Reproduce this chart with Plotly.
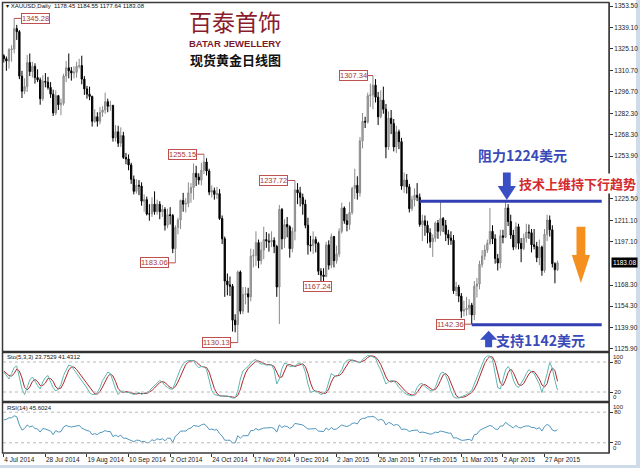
import plotly.graph_objects as go

# ---------------- data ----------------
tick_bars = [0, 16, 32, 48, 64, 80, 96, 112, 128, 144, 160, 176, 192, 208]
tick_labels = ["4 Jul 2014", "28 Jul 2014", "19 Aug 2014", "10 Sep 2014", "2 Oct 2014",
               "24 Oct 2014", "17 Nov 2014", "9 Dec 2014", "2 Jan 2015", "26 Jan 2015",
               "17 Feb 2015", "11 Mar 2015", "2 Apr 2015", "27 Apr 2015"]

price_ticks = [1353.50, 1339.10, 1325.10, 1310.70, 1296.70, 1282.30, 1268.30, 1253.90,
               1225.50, 1211.10, 1197.10, 1168.30, 1154.30, 1139.90, 1125.90]

opens = [1320.5, 1318.5, 1317.0, 1324.5, 1325.0, 1338.5, 1336.5, 1307.0, 1297.0, 1300.0,
         1316.0, 1310.0, 1313.5, 1306.0, 1304.5, 1292.0, 1303.5, 1303.0, 1299.5, 1295.0,
         1282.5, 1294.0, 1288.0, 1289.0, 1307.0, 1312.5, 1310.5, 1309.0, 1309.5, 1313.5,
         1314.0, 1305.0, 1298.5, 1295.0, 1293.5, 1277.0, 1280.0, 1277.0, 1283.0, 1284.5,
         1290.0, 1287.0, 1287.5, 1266.0, 1270.0, 1262.5, 1267.5, 1253.0, 1252.0, 1248.0,
         1238.5, 1230.5, 1234.5, 1234.0, 1224.0, 1225.0, 1215.5, 1215.5, 1222.0, 1217.0,
         1222.0, 1217.0, 1218.5, 1208.0, 1215.0, 1214.5, 1192.5, 1206.5, 1211.5, 1224.5,
         1222.0, 1222.5, 1229.5, 1233.0, 1242.5, 1240.0, 1238.0, 1244.5, 1250.0, 1244.0,
         1230.0, 1231.0, 1228.5, 1229.0, 1212.5, 1199.0, 1171.0, 1168.5, 1167.5, 1145.0,
         1142.0, 1177.0, 1151.0, 1162.0, 1162.5, 1160.5, 1187.5, 1188.0, 1196.5, 1184.5,
         1191.5, 1198.5, 1197.5, 1197.0, 1198.0, 1194.0, 1167.0, 1218.5, 1199.0, 1208.5,
         1207.0, 1192.5, 1204.0, 1231.5, 1229.5, 1226.5, 1222.0, 1208.0, 1195.0, 1194.5,
         1198.5, 1196.0, 1177.5, 1175.0, 1174.0, 1195.0, 1181.5, 1200.5, 1184.5, 1189.0,
         1204.0, 1219.5, 1211.0, 1208.5, 1216.5, 1232.5, 1234.5, 1229.5, 1264.0, 1277.0,
         1276.5, 1294.0, 1294.5, 1301.0, 1293.0, 1280.0, 1291.0, 1285.0, 1260.0, 1279.0,
         1275.5, 1260.0, 1270.0, 1263.5, 1234.0, 1238.0, 1233.5, 1219.0, 1225.0, 1228.0,
         1226.5, 1208.5, 1211.0, 1208.0, 1203.0, 1197.0, 1199.5, 1209.5, 1204.0, 1212.5,
         1208.0, 1202.0, 1199.5, 1198.0, 1164.5, 1167.0, 1161.0, 1151.0, 1152.0, 1153.0,
         1155.0, 1148.5, 1167.5, 1169.0, 1182.0, 1187.5, 1191.5, 1196.0, 1204.0, 1199.0,
         1186.0, 1183.0, 1201.0, 1200.0, 1219.5, 1210.5, 1201.5, 1193.5, 1207.0, 1196.0,
         1192.5, 1199.5, 1203.5, 1203.0, 1195.0, 1194.0, 1186.5, 1193.5, 1178.0, 1202.0,
         1211.5, 1205.0, 1182.5, 1178.45]

highs = [1321.5, 1320.0, 1325.5, 1327.5, 1345.28, 1341.0, 1337.5, 1310.5, 1305.5, 1321.0,
         1322.0, 1316.5, 1315.5, 1311.5, 1306.0, 1307.5, 1309.0, 1306.5, 1303.0, 1298.0,
         1297.5, 1294.5, 1292.0, 1308.5, 1317.0, 1322.0, 1313.0, 1313.5, 1316.5, 1318.5,
         1320.5, 1307.0, 1300.5, 1300.0, 1294.0, 1285.0, 1283.0, 1286.5, 1287.0, 1296.0,
         1292.0, 1290.5, 1288.0, 1274.5, 1274.0, 1273.0, 1270.0, 1256.0, 1255.0, 1249.5,
         1241.0, 1238.5, 1238.0, 1236.5, 1228.5, 1227.0, 1222.0, 1226.5, 1230.5, 1225.0,
         1224.0, 1221.5, 1220.0, 1219.0, 1220.0, 1215.5, 1208.0, 1213.0, 1225.0, 1229.5,
         1226.0, 1236.5, 1236.0, 1249.0, 1247.5, 1242.5, 1249.5, 1255.15, 1252.5, 1245.5,
         1234.5, 1233.0, 1233.5, 1232.0, 1214.5, 1200.5, 1176.0, 1174.0, 1169.0, 1149.0,
         1178.0, 1178.0, 1167.0, 1167.0, 1166.5, 1192.5, 1192.0, 1204.0, 1198.5, 1197.0,
         1207.0, 1203.5, 1202.5, 1204.0, 1200.0, 1195.0, 1221.5, 1219.5, 1212.0, 1213.5,
         1208.0, 1206.5, 1237.72, 1236.0, 1233.5, 1229.0, 1225.0, 1213.0, 1201.0, 1204.0,
         1200.5, 1197.0, 1179.5, 1179.5, 1197.0, 1198.0, 1202.5, 1201.0, 1194.5, 1206.0,
         1223.0, 1220.5, 1215.5, 1223.5, 1233.5, 1245.5, 1240.5, 1266.5, 1282.5, 1280.0,
         1296.0, 1302.0, 1307.34, 1305.0, 1296.5, 1297.5, 1300.0, 1288.5, 1283.5, 1284.5,
         1278.5, 1274.0, 1271.5, 1266.0, 1243.0, 1242.0, 1235.5, 1227.5, 1232.5, 1236.0,
         1229.0, 1215.0, 1214.5, 1211.0, 1206.0, 1202.0, 1210.5, 1211.5, 1224.0, 1213.5,
         1211.5, 1205.0, 1204.0, 1201.5, 1170.5, 1168.5, 1163.0, 1158.0, 1160.5, 1159.0,
         1156.5, 1171.0, 1173.0, 1184.5, 1191.5, 1195.0, 1198.5, 1219.5, 1208.0, 1202.0,
         1189.0, 1205.0, 1205.0, 1224.0, 1222.0, 1215.0, 1205.0, 1210.0, 1209.0, 1199.5,
         1202.5, 1209.0, 1208.5, 1205.5, 1205.5, 1197.0, 1198.5, 1194.5, 1205.5, 1215.0,
         1214.5, 1208.0, 1183.5, 1184.55]

lows = [1316.0, 1310.5, 1312.0, 1316.5, 1322.0, 1331.0, 1305.0, 1292.5, 1295.0, 1296.5,
        1307.0, 1306.0, 1302.0, 1303.0, 1288.0, 1290.5, 1299.5, 1298.0, 1292.5, 1280.5,
        1281.0, 1284.5, 1281.0, 1287.5, 1303.0, 1305.5, 1304.0, 1305.5, 1306.0, 1312.0,
        1301.5, 1294.5, 1292.0, 1291.0, 1273.5, 1276.0, 1273.5, 1275.0, 1280.0, 1282.0,
        1283.0, 1284.0, 1263.5, 1263.5, 1260.0, 1260.0, 1252.0, 1248.5, 1244.5, 1235.5,
        1228.5, 1229.0, 1228.0, 1221.0, 1217.0, 1214.5, 1211.0, 1213.5, 1215.0, 1215.0,
        1212.0, 1213.5, 1204.5, 1206.0, 1208.5, 1189.5, 1183.06, 1202.0, 1205.5, 1217.0,
        1216.5, 1220.0, 1223.0, 1225.0, 1234.0, 1235.0, 1234.5, 1242.0, 1241.0, 1228.0,
        1226.5, 1225.0, 1225.5, 1211.5, 1195.5, 1160.5, 1161.5, 1161.0, 1137.5, 1137.0,
        1130.13, 1149.0, 1149.0, 1155.5, 1150.0, 1157.5, 1180.0, 1181.0, 1179.5, 1182.0,
        1185.5, 1193.0, 1190.5, 1193.5, 1189.5, 1160.5, 1142.5, 1192.0, 1193.0, 1200.0,
        1186.5, 1190.0, 1198.0, 1222.0, 1220.5, 1215.0, 1206.0, 1188.5, 1190.5, 1189.0,
        1190.0, 1175.0, 1167.24, 1171.0, 1173.5, 1178.5, 1179.5, 1180.0, 1182.5, 1187.0,
        1202.5, 1209.0, 1204.0, 1205.0, 1215.0, 1225.5, 1225.0, 1227.0, 1259.0, 1272.5,
        1275.5, 1286.5, 1285.0, 1289.5, 1274.5, 1279.0, 1282.0, 1252.5, 1258.0, 1268.5,
        1257.0, 1256.0, 1258.5, 1231.5, 1229.5, 1229.0, 1216.5, 1217.5, 1220.5, 1224.0,
        1207.0, 1197.5, 1201.0, 1196.0, 1193.0, 1187.0, 1197.0, 1199.0, 1201.0, 1203.5,
        1197.5, 1195.0, 1195.0, 1162.5, 1161.0, 1157.0, 1146.5, 1147.5, 1148.0, 1148.5,
        1142.36, 1145.0, 1160.0, 1165.5, 1180.0, 1185.0, 1189.5, 1195.0, 1195.5, 1182.5,
        1178.0, 1179.5, 1196.0, 1199.5, 1207.5, 1199.0, 1191.5, 1192.0, 1192.0, 1183.5,
        1191.5, 1196.5, 1199.0, 1190.0, 1192.0, 1183.5, 1181.5, 1174.5, 1176.5, 1197.5,
        1200.5, 1180.0, 1169.5, 1177.64]

closes = [1318.5, 1317.0, 1324.5, 1325.0, 1338.5, 1336.5, 1307.0, 1297.0, 1300.0, 1316.0,
          1310.0, 1313.5, 1306.0, 1304.5, 1292.0, 1303.5, 1303.0, 1299.5, 1295.0, 1282.5,
          1294.0, 1288.0, 1289.0, 1307.0, 1312.5, 1310.5, 1309.0, 1309.5, 1313.5, 1314.0,
          1305.0, 1298.5, 1295.0, 1293.5, 1277.0, 1280.0, 1277.0, 1283.0, 1284.5, 1290.0,
          1287.0, 1287.5, 1266.0, 1270.0, 1262.5, 1267.5, 1253.0, 1252.0, 1248.0, 1238.5,
          1230.5, 1234.5, 1234.0, 1224.0, 1225.0, 1215.5, 1215.5, 1222.0, 1217.0, 1222.0,
          1217.0, 1218.5, 1208.0, 1215.0, 1214.5, 1192.5, 1206.5, 1211.5, 1224.5, 1222.0,
          1222.5, 1229.5, 1233.0, 1242.5, 1240.0, 1238.0, 1244.5, 1250.0, 1244.0, 1230.0,
          1231.0, 1228.5, 1229.0, 1212.5, 1199.0, 1171.0, 1168.5, 1167.5, 1145.0, 1142.0,
          1177.0, 1151.0, 1162.0, 1162.5, 1160.5, 1187.5, 1188.0, 1196.5, 1184.5, 1191.5,
          1198.5, 1197.5, 1197.0, 1198.0, 1194.0, 1167.0, 1218.5, 1199.0, 1208.5, 1207.0,
          1192.5, 1204.0, 1231.5, 1229.5, 1226.5, 1222.0, 1208.0, 1195.0, 1194.5, 1198.5,
          1196.0, 1177.5, 1175.0, 1174.0, 1195.0, 1181.5, 1200.5, 1184.5, 1189.0, 1204.0,
          1219.5, 1211.0, 1208.5, 1216.5, 1232.5, 1234.5, 1229.5, 1264.0, 1277.0, 1276.5,
          1294.0, 1294.5, 1301.0, 1293.0, 1280.0, 1291.0, 1285.0, 1260.0, 1279.0, 1275.5,
          1260.0, 1270.0, 1263.5, 1234.0, 1238.0, 1233.5, 1219.0, 1225.0, 1228.0, 1226.5,
          1208.5, 1211.0, 1208.0, 1203.0, 1197.0, 1199.5, 1209.5, 1204.0, 1212.5, 1208.0,
          1202.0, 1199.5, 1198.0, 1164.5, 1167.0, 1161.0, 1151.0, 1152.0, 1153.0, 1155.0,
          1148.5, 1167.5, 1169.0, 1182.0, 1187.5, 1191.5, 1196.0, 1204.0, 1199.0, 1186.0,
          1183.0, 1201.0, 1200.0, 1219.5, 1210.5, 1201.5, 1193.5, 1207.0, 1196.0, 1192.5,
          1199.5, 1203.5, 1203.0, 1195.0, 1194.0, 1186.5, 1193.5, 1178.0, 1202.0, 1211.5,
          1205.0, 1182.5, 1178.5, 1183.08]

sto_main = [60, 53, 46, 57, 69, 72, 46, 26, 15, 30, 44, 50, 40, 33, 26, 40, 49, 53, 40, 29,
            22, 26, 35, 53, 64, 74, 72, 65, 58, 51, 44, 37, 28, 19, 15, 15, 19, 29, 43, 51,
            60, 57, 40, 26, 15, 21, 22, 19, 19, 17, 15, 17, 19, 15, 18, 19, 22, 28, 33, 40,
            43, 40, 33, 29, 26, 26, 40, 53, 67, 76, 81, 83, 83, 83, 74, 69, 71, 71, 65, 43,
            23, 15, 13, 12, 12, 12, 12, 10, 8, 8, 22, 46, 62, 67, 71, 78, 83, 85, 79, 76,
            76, 74, 74, 74, 64, 36, 46, 67, 78, 76, 71, 71, 72, 76, 78, 74, 60, 36, 19, 21,
            23, 19, 15, 17, 22, 40, 57, 53, 50, 57, 64, 78, 83, 85, 83, 81, 79, 78, 85, 90,
            93, 92, 90, 88, 74, 64, 50, 36, 40, 43, 42, 37, 29, 23, 19, 15, 14, 12, 17, 29,
            36, 37, 31, 26, 23, 22, 29, 44, 57, 60, 53, 40, 22, 10, 8, 8, 10, 12, 15, 19,
            23, 36, 49, 64, 79, 88, 92, 92, 85, 60, 29, 26, 43, 64, 71, 63, 44, 33, 29, 37,
            46, 57, 65, 60, 57, 46, 36, 19, 36, 57, 79, 67, 43, 23.7529]

sto_signal = [62, 57, 53, 52, 57, 66, 62, 48, 29, 24, 30, 41, 45, 41, 33, 33, 38, 47, 47, 41,
              30, 26, 28, 38, 51, 64, 70, 70, 65, 58, 51, 44, 36, 28, 21, 16, 16, 21, 30, 41,
              51, 56, 52, 41, 27, 21, 19, 21, 20, 18, 17, 16, 17, 17, 17, 17, 20, 23, 28, 34,
              39, 41, 39, 34, 29, 27, 31, 40, 53, 65, 75, 80, 82, 83, 80, 75, 71, 70, 69, 60,
              44, 27, 17, 13, 12, 12, 12, 11, 10, 9, 13, 25, 43, 58, 67, 72, 77, 82, 82, 80,
              77, 75, 75, 74, 71, 58, 49, 50, 64, 74, 75, 73, 71, 73, 75, 76, 71, 57, 38, 25,
              21, 21, 19, 17, 18, 26, 40, 50, 53, 53, 57, 66, 75, 82, 84, 83, 81, 79, 81, 84,
              89, 92, 92, 90, 84, 75, 63, 50, 42, 40, 42, 41, 36, 30, 24, 19, 16, 14, 14, 19,
              27, 34, 35, 31, 27, 24, 25, 32, 43, 54, 57, 51, 38, 24, 13, 9, 9, 10, 12, 15,
              19, 26, 36, 50, 64, 77, 86, 91, 90, 79, 58, 38, 33, 44, 59, 66, 59, 47, 35, 33,
              37, 47, 56, 61, 61, 54, 46, 34, 30, 37, 57, 68, 63, 41.4312]

rsi_vals = [65, 66, 69, 69, 73, 71, 55, 45, 48, 55, 51, 53, 48, 47, 41, 48, 47, 45, 43, 36,
            44, 41, 42, 51, 54, 52, 51, 52, 53, 54, 49, 46, 44, 43, 36, 38, 36, 40, 41, 44,
            42, 42, 32, 35, 32, 35, 29, 29, 27, 24, 22, 25, 25, 22, 23, 20, 21, 26, 24, 28,
            26, 28, 24, 29, 29, 21, 33, 37, 43, 43, 43, 47, 49, 54, 53, 52, 55, 57, 53, 46,
            47, 45, 46, 38, 33, 25, 25, 25, 20, 20, 34, 29, 34, 34, 34, 44, 44, 48, 45, 47,
            49, 49, 49, 50, 48, 41, 55, 50, 53, 52, 48, 51, 58, 57, 56, 55, 51, 47, 47, 48,
            48, 43, 43, 42, 49, 45, 50, 46, 47, 51, 55, 53, 52, 54, 58, 59, 57, 65, 68, 68,
            71, 71, 72, 69, 64, 66, 64, 55, 60, 58, 54, 56, 54, 46, 47, 46, 42, 44, 45, 45,
            40, 41, 40, 39, 37, 38, 41, 40, 43, 42, 40, 39, 39, 29, 30, 28, 25, 25, 26, 27,
            24, 36, 37, 44, 47, 49, 51, 54, 52, 47, 46, 53, 53, 60, 56, 52, 49, 54, 50, 49,
            52, 53, 53, 50, 50, 47, 50, 43, 52, 56, 53, 45, 43, 45.6024]

# extreme-price tags: (bar, price, bar offset of the tag anchor, anchor)
price_tags = [(4, 1345.28, 2.6, "left"), (66, 1183.06, -2.6, "right"), (77, 1255.15, -2.6, "right"),
              (90, 1130.13, -2.6, "right"), (112, 1237.72, -2.6, "right"), (122, 1167.24, -1.5, "center"),
              (142, 1307.34, -2.0, "right"), (180, 1142.36, -2.6, "right")]

resistance_level = 1224
support_level = 1142
last_close = closes[-1]

bars = list(range(len(closes)))

# ---------------- geometry helpers ----------------
W, H = 640, 468


def fx(p):
    return p / W


def fy(p):
    return 1 - p / H


X_DOM = [fx(3), fx(609)]
MAIN_DOM = [fy(352), fy(3)]
STO_DOM = [fy(402), fy(352)]
RSI_DOM = [fy(453), fy(402)]
FONT = "Liberation Sans, Arial, sans-serif"
CJK = "Noto Sans CJK SC, sans-serif"

fig = go.Figure()

fig.add_trace(go.Candlestick(
    x=bars, open=opens, high=highs, low=lows, close=closes,
    increasing=dict(line=dict(color="#8a8a8a", width=1), fillcolor="#b2b2b2"),
    decreasing=dict(line=dict(color="#000000", width=1), fillcolor="#000000"),
    whiskerwidth=0, xaxis="x", yaxis="y", showlegend=False, hoverinfo="skip"))

fig.add_trace(go.Scatter(x=bars, y=sto_signal, mode="lines", xaxis="x", yaxis="y2",
                         line=dict(color="#b0282c", width=1), showlegend=False, hoverinfo="skip"))
fig.add_trace(go.Scatter(x=bars, y=sto_main, mode="lines", xaxis="x", yaxis="y2",
                         line=dict(color="#5fb7b2", width=1), showlegend=False, hoverinfo="skip"))
fig.add_trace(go.Scatter(x=bars, y=rsi_vals, mode="lines", xaxis="x", yaxis="y3",
                         line=dict(color="#4f95bd", width=1), showlegend=False, hoverinfo="skip"))

shapes = []
annotations = []

# indicator level lines
for yref in ("y2", "y3"):
    for lv in (20, 80):
        shapes.append(dict(type="line", xref="x domain", yref=yref, x0=0, x1=1, y0=lv, y1=lv,
                           line=dict(color="#b8b8b8", width=1, dash="dot")))
    annotations.append(dict(xref="paper", yref=yref, x=fx(611), y=100, text="100",
                            xanchor="left", yanchor="top", showarrow=False,
                            font=dict(size=6, family=FONT, color="#222")))
    annotations.append(dict(xref="paper", yref=yref, x=fx(611), y=0, text="0",
                            xanchor="left", yanchor="bottom", showarrow=False,
                            font=dict(size=6, family=FONT, color="#222")))

# support / resistance lines
shapes.append(dict(type="line", xref="x", yref="y", x0=160, x1=230,
                   y0=resistance_level, y1=resistance_level,
                   line=dict(color="#3240b4", width=3)))
shapes.append(dict(type="line", xref="x", yref="y", x0=180, x1=230,
                   y0=support_level, y1=support_level,
                   line=dict(color="#3240b4", width=3)))


def arrow(cx, y_tail, y_neck, y_tip, shaft_hw, head_hw, color):
    path = (f"M {cx - shaft_hw} {y_tail} L {cx + shaft_hw} {y_tail} L {cx + shaft_hw} {y_neck} "
            f"L {cx + head_hw} {y_neck} L {cx} {y_tip} L {cx - head_hw} {y_neck} "
            f"L {cx - shaft_hw} {y_neck} Z")
    return dict(type="path", xref="x", yref="y", path=path, fillcolor=color,
                line=dict(color=color, width=0))


shapes.append(arrow(193.5, 1243.0, 1234.0, 1224.8, 1.5, 3.5, "#3a4fc4"))
shapes.append(arrow(222.0, 1207.0, 1188.3, 1169.7, 1.7, 3.5, "#f5901e"))
shapes.append(arrow(186.5, 1127.0, 1132.0, 1138.0, 1.35, 3.3, "#3a4fc4"))

# extreme-price tags with connectors
for b, p, off, anchor in price_tags:
    xe = b + off
    shapes.append(dict(type="line", xref="x", yref="y", x0=b, x1=xe, y0=p, y1=p,
                       line=dict(color="#b84a4a", width=1)))
    annotations.append(dict(xref="x", yref="y", x=xe, y=p, text=f"{p:.2f}",
                            xanchor=anchor, yanchor="middle", showarrow=False,
                            bgcolor="#ffffff", bordercolor="#c05050", borderwidth=1, borderpad=0,
                            font=dict(size=7.5, family=FONT, color="#a83838")))

# frame and panel separators
shapes.append(dict(type="rect", xref="paper", yref="paper", x0=fx(2.5), x1=fx(609),
                   y0=fy(453), y1=fy(2.5), line=dict(color="#3a3a3a", width=1.5)))
for sep in (352, 402):
    shapes.append(dict(type="line", xref="paper", yref="paper", x0=fx(2.5), x1=fx(609),
                       y0=fy(sep), y1=fy(sep), line=dict(color="#333333", width=2.5)))

# window chrome strips
shapes.append(dict(type="rect", xref="paper", yref="paper", x0=fx(636), x1=1, y0=0, y1=1,
                   fillcolor="#cfdbe9", line=dict(width=0), layer="below"))
shapes.append(dict(type="rect", xref="paper", yref="paper", x0=0, x1=1, y0=0, y1=fy(465),
                   fillcolor="#cfdbe9", line=dict(width=0), layer="below"))

# texts
annotations += [
    dict(xref="paper", yref="paper", x=fx(4), y=fy(6), text="▾ XAUUSD,Daily  1178.45 1184.55 1177.64 1183.08",
         xanchor="left", yanchor="middle", showarrow=False, font=dict(size=6, family=FONT, color="#111")),
    dict(xref="paper", yref="paper", x=fx(5), y=fy(357), text="Sto(5,3,3) 23.7529 41.4312",
         xanchor="left", yanchor="middle", showarrow=False, font=dict(size=6, family=FONT, color="#111")),
    dict(xref="paper", yref="paper", x=fx(5), y=fy(408), text="RSI(14) 45.6024",
         xanchor="left", yanchor="middle", showarrow=False, font=dict(size=6, family=FONT, color="#111")),
    dict(xref="paper", yref="paper", x=fx(235), y=fy(21), text="百泰首饰",
         xanchor="center", yanchor="middle", showarrow=False,
         font=dict(size=23, family=CJK, color="#8a1c2e")),
    dict(xref="paper", yref="paper", x=fx(235.5), y=fy(43), text="<b>BATAR JEWELLERY</b>",
         xanchor="center", yanchor="middle", showarrow=False,
         font=dict(size=9.5, family=FONT, color="#7c1a2a")),
    dict(xref="paper", yref="paper", x=fx(235), y=fy(60), text="<b>现货黄金日线图</b>",
         xanchor="center", yanchor="middle", showarrow=False,
         font=dict(size=13, family=CJK, color="#111")),
    dict(xref="x", yref="y", x=199.5, y=1254.6, text="<b>阻力1224美元</b>",
         xanchor="center", yanchor="middle", showarrow=False,
         font=dict(size=14, family=CJK, color="#3a4ab8")),
    dict(xref="x", yref="y", x=197.8, y=1235.4, text="<b>技术上维持下行趋势</b>",
         xanchor="left", yanchor="middle", showarrow=False, bgcolor="#ffffff", borderpad=0,
         font=dict(size=13, family=CJK, color="#d42a2e")),
    dict(xref="x", yref="y", x=206.3, y=1131.9, text="<b>支持1142美元</b>",
         xanchor="center", yanchor="middle", showarrow=False,
         font=dict(size=14, family=CJK, color="#3a4ab8")),
    dict(xref="paper", yref="y", x=fx(610.5), y=last_close, text=f"{last_close:.2f}",
         xanchor="left", yanchor="middle", showarrow=False, bgcolor="#000000", borderpad=1,
         font=dict(size=6.5, family=FONT, color="#ffffff")),
]

axis_font = dict(size=6.5, family=FONT, color="#222")

fig.update_layout(
    width=W, height=H, margin=dict(l=0, r=0, t=0, b=0),
    paper_bgcolor="#ffffff", plot_bgcolor="#ffffff",
    showlegend=False, shapes=shapes, annotations=annotations,
    xaxis=dict(domain=X_DOM, range=[-0.3, 232.8], anchor="y3", tickvals=tick_bars,
               ticktext=tick_labels, ticks="outside", ticklen=3, tickcolor="#333", tickangle=0,
               ticklabelposition="outside right", showgrid=False, zeroline=False,
               rangeslider=dict(visible=False), tickfont=dict(size=6.5, family=FONT, color="#222")),
    yaxis=dict(domain=MAIN_DOM, range=[1123.9, 1355.5], anchor="x", side="right",
               tickvals=price_ticks, ticktext=[f"{v:.2f}" for v in price_ticks],
               ticks="outside", ticklen=3, tickcolor="#333", showline=True, linecolor="#555",
               showgrid=False, zeroline=False, tickfont=axis_font),
    yaxis2=dict(domain=STO_DOM, range=[0, 100], anchor="x", side="right",
                tickvals=[20, 80], ticktext=["20", "80"], ticks="outside", ticklen=3,
                tickcolor="#333", showline=True, linecolor="#555",
                showgrid=False, zeroline=False, tickfont=dict(size=6, family=FONT, color="#222")),
    yaxis3=dict(domain=RSI_DOM, range=[0, 100], anchor="x", side="right",
                tickvals=[20, 80], ticktext=["20", "80"], ticks="outside", ticklen=3,
                tickcolor="#333", showline=True, linecolor="#555",
                showgrid=False, zeroline=False, tickfont=dict(size=6, family=FONT, color="#222")),
)

fig.write_html("out.html")
